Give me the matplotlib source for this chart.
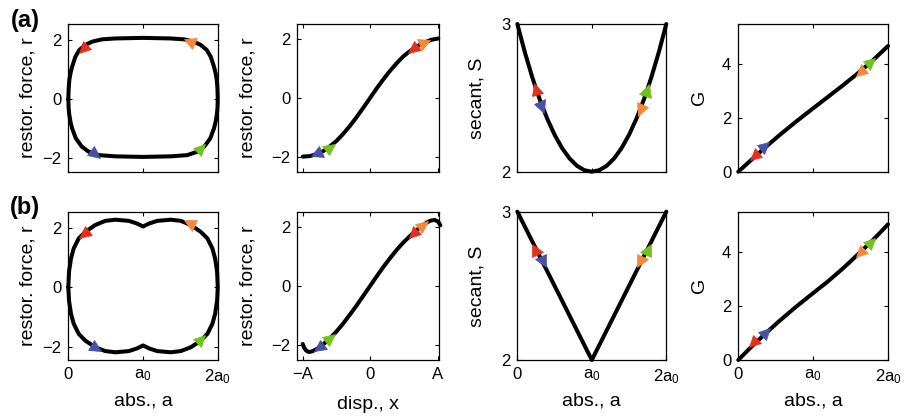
import matplotlib
matplotlib.use('Agg')
import matplotlib.pyplot as plt
from matplotlib.markers import MarkerStyle
from matplotlib.transforms import Affine2D

plt.rcParams['font.family'] = ['Liberation Sans', 'DejaVu Sans']
plt.rcParams['mathtext.fontset'] = 'custom'
plt.rcParams['mathtext.rm'] = 'Liberation Sans'
plt.rcParams['mathtext.default'] = 'regular'

# ---- data ----
# row (a), panel 1: closed loop r vs a (top left->right, then bottom right->left)
a1_a = [0.0, 0.004, 0.013, 0.03, 0.05, 0.094, 0.147, 0.228, 0.317, 0.45, 0.63, 1.0,
        1.37, 1.55, 1.683, 1.772, 1.853, 1.906, 1.95, 1.97, 1.987, 1.996, 2.0,
        1.996, 1.987, 1.97, 1.95, 1.9, 1.82, 1.73, 1.59, 1.37, 1.0,
        0.63, 0.41, 0.27, 0.18, 0.1, 0.05, 0.03, 0.013, 0.004, 0.0]
a1_r = [0.0, 0.35, 0.65, 0.9, 1.1, 1.44, 1.67, 1.84, 1.95, 2.03, 2.06, 2.08,
        2.06, 2.03, 1.95, 1.84, 1.67, 1.44, 1.1, 0.9, 0.65, 0.35, 0.0,
        -0.3, -0.53, -0.78, -0.98, -1.32, -1.6, -1.77, -1.89, -1.93, -1.95,
        -1.93, -1.89, -1.77, -1.6, -1.32, -0.98, -0.78, -0.53, -0.3, 0.0]
# row (a), panel 2: r vs x
a2_x = [-1.0, -0.89, -0.8, -0.7, -0.6, -0.5, -0.4, -0.3, -0.2, -0.1, 0.0, 0.1, 0.2,
        0.3, 0.4, 0.5, 0.6, 0.7, 0.8, 0.9, 0.96, 1.01]
a2_r = [-1.99, -1.97, -1.91, -1.81, -1.65, -1.46, -1.22, -0.95, -0.65, -0.33, 0.0, 0.33, 0.64,
        0.93, 1.19, 1.42, 1.6, 1.75, 1.87, 1.96, 1.99, 2.01]
# row (a), panel 3: secant S vs a
a3_a = [0.0, 0.1, 0.2, 0.3, 0.4, 0.5, 0.6, 0.7, 0.8, 0.9, 1.0, 1.1, 1.2, 1.3, 1.4, 1.5,
        1.6, 1.7, 1.8, 1.9, 2.0]
a3_s = [3.0, 2.81, 2.64, 2.49, 2.36, 2.25, 2.16, 2.09, 2.04, 2.01, 2.0, 2.01, 2.04, 2.09,
        2.16, 2.25, 2.36, 2.49, 2.64, 2.81, 3.0]
# row (a), panel 4: G vs a
a4_a = [0.0, 0.15, 0.35, 0.55, 0.77, 1.0, 1.2, 1.4, 1.6, 1.8, 2.0]
a4_g = [0.0, 0.38, 0.88, 1.36, 1.86, 2.36, 2.79, 3.22, 3.67, 4.15, 4.68]

# row (b), panel 1
b1_a = [0.0, 0.009, 0.036, 0.072, 0.139, 0.228, 0.36, 0.495, 0.63, 0.81, 0.92, 1.0,
        1.08, 1.19, 1.37, 1.505, 1.64, 1.772, 1.861, 1.928, 1.964, 1.991, 2.0,
        1.991, 1.964, 1.928, 1.861, 1.772, 1.64, 1.505, 1.37, 1.19, 1.08, 1.0,
        0.92, 0.81, 0.63, 0.495, 0.36, 0.228, 0.139, 0.072, 0.036, 0.009, 0.0]
b1_r = [0.0, 0.53, 0.98, 1.31, 1.65, 1.87, 2.1, 2.24, 2.28, 2.24, 2.15, 2.05,
        2.15, 2.24, 2.28, 2.24, 2.1, 1.87, 1.65, 1.31, 0.98, 0.53, 0.0,
        -0.45, -0.9, -1.23, -1.57, -1.8, -2.02, -2.15, -2.19, -2.15, -2.06, -1.96,
        -2.06, -2.15, -2.19, -2.15, -2.02, -1.8, -1.57, -1.23, -0.9, -0.45, 0.0]
# row (b), panel 2
b2_x = [-1.0, -0.98, -0.95, -0.91, -0.86, -0.8, -0.76, -0.7, -0.6, -0.5, -0.4, -0.3, -0.2,
        -0.1, 0.0, 0.1, 0.2, 0.3, 0.4, 0.5, 0.6, 0.7, 0.79, 0.85, 0.9, 0.96, 1.01, 1.04]
b2_r = [-1.96, -2.08, -2.18, -2.23, -2.21, -2.14, -2.08, -1.98, -1.78, -1.54, -1.27, -0.97,
        -0.66, -0.33, 0.0, 0.33, 0.65, 0.95, 1.23, 1.48, 1.7, 1.9, 2.06, 2.15, 2.2, 2.22,
        2.16, 2.04]
# row (b), panel 3
b3_a = [0.0, 1.0, 2.0]
b3_s = [3.0, 2.0, 3.0]
# row (b), panel 4
b4_a = [0.0, 0.15, 0.35, 0.55, 0.77, 1.0, 1.2, 1.4, 1.6, 1.8, 2.0]
b4_g = [0.0, 0.42, 0.95, 1.45, 1.97, 2.48, 2.92, 3.4, 3.92, 4.45, 5.03]

# markers per panel: (x, y, heading in degrees), order red, orange, green, blue
marker_colors = ['#e2321e', '#f5883b', '#70c31b', '#4652a4']
mk_a1 = [(0.19, 1.7, 222), (1.61, 1.97, 155), (1.78, -1.64, 42), (0.36, -1.86, -40)]
mk_a2 = [(0.64, 1.64, 219), (0.81, 1.9, 25), (-0.6, -1.66, 35), (-0.8, -1.89, 205)]
mk_a3 = [(0.25, 2.56, 108), (1.65, 2.42, 249), (1.74, 2.55, 71), (0.335, 2.44, -69)]
mk_a4 = [(0.21, 0.58, 221), (1.62, 3.71, 221), (1.77, 4.08, 41), (0.36, 0.96, 41)]
mk_b1 = [(0.21, 1.8, 218), (1.61, 2.18, 154), (1.78, -1.74, 42), (0.37, -2.06, -30)]
mk_b2 = [(0.63, 1.76, 225), (0.79, 2.06, 40), (-0.59, -1.76, 40), (-0.76, -2.08, 215)]
mk_b3 = [(0.24, 2.75, 117), (1.65, 2.66, 243), (1.75, 2.75, 63), (0.35, 2.66, -63)]
mk_b4 = [(0.2, 0.62, 222), (1.62, 3.97, 222), (1.77, 4.37, 42), (0.37, 1.02, 42)]

abs_ticks = [0, 1, 2]
abs_labels = ['0', 'a$_0$', '2a$_0$']
disp_ticks = [-1, 0, 1]
disp_labels = ['\u2212A', '0', 'A']

# ---- layout ----
fig = plt.figure(figsize=(9.1, 4.2), dpi=100)
col_left = [0.0751, 0.3267, 0.5685, 0.8113]
col_w = [0.1642, 0.1557, 0.1637, 0.1645]
row_bottom = [0.5912, 0.1429]
row_h = [0.3517, 0.3531]
ylab_x = [-0.215, -0.29, -0.213, -0.199]


def draw(ax, x, y, marks):
    ax.plot(x, y, color='black', lw=2.9, solid_capstyle='round', solid_joinstyle='round',
            clip_on=False, zorder=3)
    for (mx, my, ang), c in zip(marks, marker_colors):
        m = MarkerStyle('>', transform=Affine2D().rotate_deg(ang))
        ax.plot(mx, my, marker=m, ms=8.5, color=c, mec=c, mew=0.5, ls='none',
                clip_on=False, zorder=4)


panels = [
    [(a1_a, a1_r, mk_a1), (a2_x, a2_r, mk_a2), (a3_a, a3_s, mk_a3), (a4_a, a4_g, mk_a4)],
    [(b1_a, b1_r, mk_b1), (b2_x, b2_r, mk_b2), (b3_a, b3_s, mk_b3), (b4_a, b4_g, mk_b4)],
]

for i in range(2):
    for j in range(4):
        ax = fig.add_axes([col_left[j], row_bottom[i], col_w[j], row_h[i]])
        x, y, marks = panels[i][j]
        draw(ax, x, y, marks)
        if j == 1:
            ax.set_xlim(-1.08, 1.02)
            ax.set_xticks(disp_ticks)
            ax.set_xticklabels(disp_labels)
        else:
            ax.set_xlim(0, 2)
            ax.set_xticks(abs_ticks)
            ax.set_xticklabels(abs_labels)
        if j == 0:
            ax.set_ylim(-2.45, 2.55)
            ax.set_yticks([-2, 0, 2])
            ax.set_ylabel('restor. force, r', fontsize=14)
        elif j == 1:
            ax.set_ylim(-2.5, 2.5)
            ax.set_yticks([-2, 0, 2])
            ax.set_ylabel('restor. force, r', fontsize=14)
        elif j == 2:
            ax.set_ylim(2, 3)
            ax.set_yticks([2, 3])
            ax.set_ylabel('secant, S', fontsize=14)
        else:
            ax.set_ylim(0, 5.5)
            ax.set_yticks([0, 2, 4])
            ax.set_ylabel('G', fontsize=14)
        ax.yaxis.set_label_coords(ylab_x[j], 0.5)
        ax.tick_params(direction='in', length=3, width=0.8, top=True, right=True,
                       labelsize=12, pad=5)
        for sp in ax.spines.values():
            sp.set_linewidth(0.9)
        if i == 0:
            ax.tick_params(labelbottom=False)
        else:
            ax.set_xlabel('disp., x' if j == 1 else 'abs., a', fontsize=14)
            ax.xaxis.set_label_coords(0.5, -0.24 if j == 1 else -0.22)

fig.text(0.0275, 0.951, '(a)', fontsize=17, fontweight='bold', ha='center', va='center')
fig.text(0.0275, 0.506, '(b)', fontsize=17, fontweight='bold', ha='center', va='center')

fig.savefig('out.png', dpi=100)
